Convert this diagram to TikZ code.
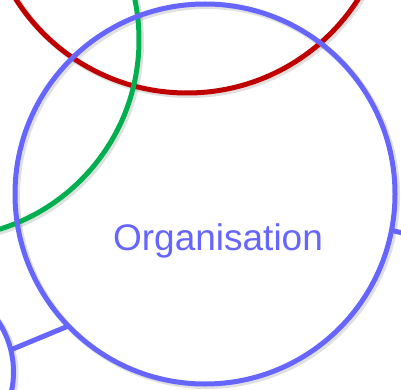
\documentclass[tikz,border=0pt]{standalone}
\usepackage{fontspec}
\setmainfont{Liberation Sans}
\definecolor{orgblue}{HTML}{6666FF}
\definecolor{ringred}{HTML}{C00000}
\definecolor{ringgreen}{HTML}{00B050}
\begin{document}
\begin{tikzpicture}[x=1pt,y=-1pt,
  ring/.style={circle,draw=#1,line width=5pt,inner sep=0pt,outer sep=0pt},
  shade/.style={circle,draw=black,draw opacity=0.12,line width=6pt,inner sep=0pt,outer sep=0pt},
  link/.style={draw=orgblue,line width=5pt}]
\useasboundingbox (0,0) rectangle (401,390);
\clip (0,0) rectangle (401,390);
% shadows
\node[shade,minimum size=406pt] at (189,-108) {};
\node[shade,minimum size=396pt] at (-57,42) {};
\node[shade,minimum size=380pt] at (207,196) {};
\node[shade,minimum size=183pt] at (-76,374) {};
% rings
\node[ring=ringred,minimum size=406pt] (red) at (187,-110) {};
\node[ring=ringgreen,minimum size=396pt] (green) at (-59,40) {};
\node[ring=orgblue,minimum size=380pt] (org) at (205,194) {};
\node[ring=orgblue,minimum size=183pt] (small) at (-78,372) {};
\coordinate (out) at (430,240);
\draw[link] (org.224) -- (small.14.6);
\draw[link] (org.-11.5) -- (out);
\node[text=orgblue,font=\fontsize{37}{37}\selectfont] (label) at (218,241) {Organisation};
\end{tikzpicture}
\end{document}
